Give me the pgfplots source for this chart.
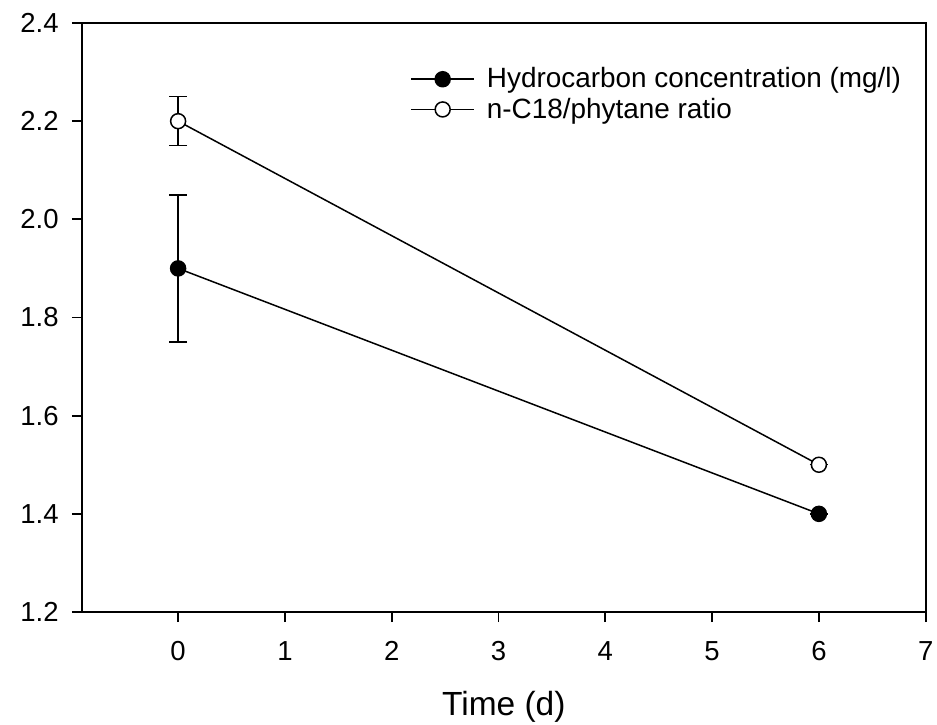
\documentclass[border=0pt]{standalone}
\usepackage{fontspec}
\setmainfont{Liberation Sans}
\usepackage{pgfplots}
\pgfplotsset{compat=1.18}
\begin{document}
\begin{tikzpicture}
\begin{axis}[
  name=ax, at={(0,0)}, anchor=south west,
  scale only axis, width=421.85bp, height=294.5bp,
  xmin=-0.9, xmax=7, ymin=1.2, ymax=2.4,
  xtick={0,1,2,3,4,5,6,7},
  ytick={1.2,1.4,1.6,1.8,2.0,2.2,2.4},
  xtick pos=bottom, ytick pos=left,
  tick align=outside,
  major tick length=5bp,
  axis line style={line width=1bp},
  every tick/.style={line width=0.9bp, black},
  /pgf/number format/assume math mode=true,
  yticklabel style={/pgf/number format/fixed, /pgf/number format/fixed zerofill, /pgf/number format/precision=1},
  ticklabel style={font=\fontsize{13.8}{16}\selectfont},
  xticklabel style={anchor=base, inner sep=0pt, yshift=-19bp},
  yticklabel style={anchor=east, inner sep=0pt, xshift=-6.5bp},
  xlabel={Time (d)},
  xlabel style={at={(axis description cs:0.5,0)}, anchor=base, inner sep=0pt, yshift=-51.5bp, font=\fontsize{16.8}{19}\selectfont},
  clip=false,
  legend style={draw=none, fill=none, inner sep=0pt, at={(rel axis cs:0.3888,0.93)}, anchor=north west,
    font=\fontsize{14}{16}\selectfont, row sep=0.5bp, nodes={inner sep=1.5bp}},
  legend cell align=left,
  legend image code/.code={
    \draw[mark repeat=2, mark phase=2, #1] plot coordinates {(0bp,0bp) (15.75bp,0bp) (31.5bp,0bp)};
    \path (36bp,0bp);
  },
]
\addplot[black, line width=0.75bp, mark=*, mark size=3.75bp, mark options={fill=black, line width=0.75bp},
  error bars/.cd, y dir=both, y explicit,
  error bar style={line width=0.75bp},
  error mark options={rotate=90, mark size=4.5bp, line width=0.75bp}]
  coordinates {(0,1.9) +- (0,0.15) (6,1.4) +- (0,0)};
\addlegendentry{Hydrocarbon concentration (mg/l)}
\addplot[black, line width=0.75bp, mark=*, mark size=3.75bp, mark options={fill=white, line width=0.75bp},
  error bars/.cd, y dir=both, y explicit,
  error bar style={line width=0.75bp},
  error mark options={rotate=90, mark size=4.5bp, line width=0.75bp}]
  coordinates {(0,2.2) +- (0,0.05) (6,1.5) +- (0,0)};
\addlegendentry{n-C18/phytane ratio}
\end{axis}
\pgfresetboundingbox
\path (-41bp,-56.5bp) rectangle (427.5bp,306bp);
\end{tikzpicture}
\end{document}
